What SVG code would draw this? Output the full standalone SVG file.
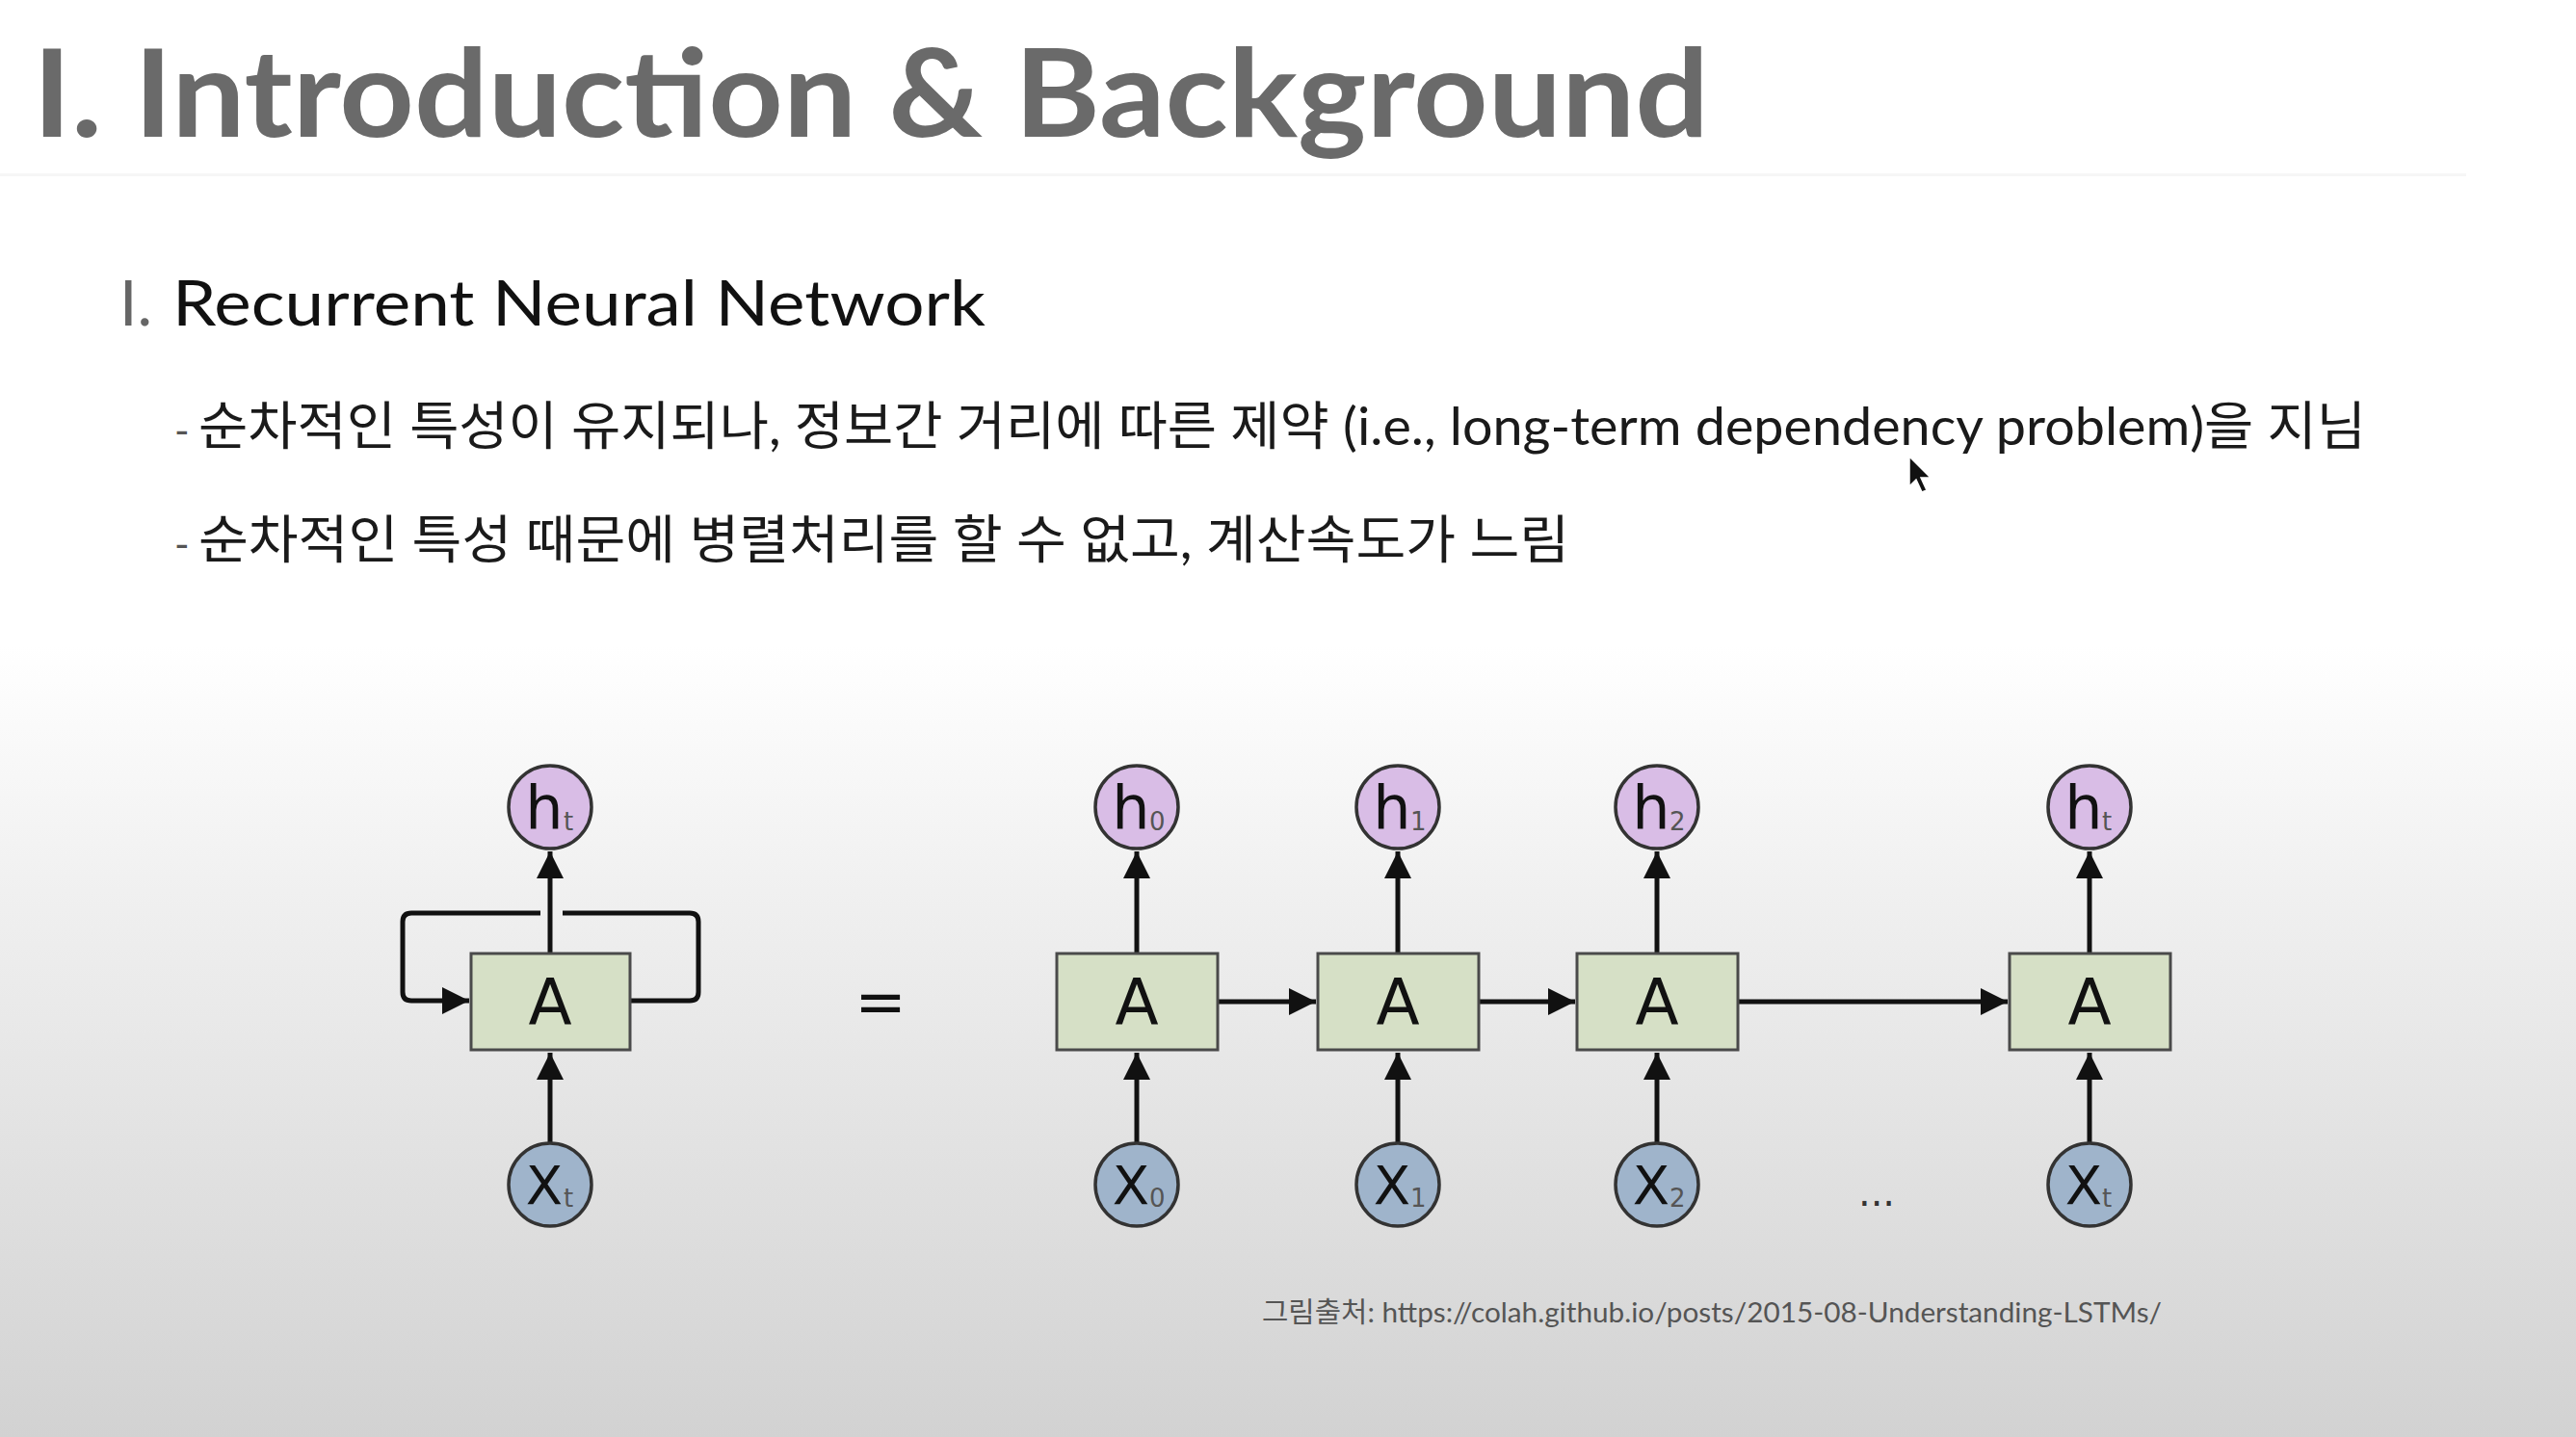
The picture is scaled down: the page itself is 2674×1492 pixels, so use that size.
<svg xmlns="http://www.w3.org/2000/svg" width="2674" height="1492" viewBox="0 0 2674 1492">
<defs>
<linearGradient id="bg" x1="0" y1="0" x2="0" y2="1492" gradientUnits="userSpaceOnUse">
<stop offset="0" stop-color="#ffffff"/>
<stop offset="0.45" stop-color="#ffffff"/>
<stop offset="0.62" stop-color="#f0f0f0"/>
<stop offset="1" stop-color="#d2d2d2"/>
</linearGradient>
<marker id="ah" viewBox="0 0 10 10" refX="10" refY="5" markerWidth="28" markerHeight="28" markerUnits="userSpaceOnUse" orient="auto">
<path d="M0,0 L10,5 L0,10 Z" fill="#111"/>
</marker>
<style>
.title{font-family:Lato,"Open Sans",sans-serif;font-weight:700;fill:#6a6a6a;}
.sub{font-family:Lato,"Open Sans",sans-serif;fill:#111;}
.kr{font-family:Lato,"Noto Sans CJK KR",sans-serif;fill:#1a1a1a;}
.box{fill:#d6e0c6;stroke:#4a4a4a;stroke-width:3;}
.hc{fill:#d9bde6;stroke:#333;stroke-width:3.5;}
.xc{fill:#9fb4cb;stroke:#333;stroke-width:3.5;}
.lbl{font-family:"DejaVu Sans",sans-serif;fill:#111;text-anchor:middle;}
.subs{font-family:"DejaVu Sans",sans-serif;fill:#555;font-size:26px;}
.con{fill:none;stroke:#111;stroke-width:5;}
.arr{fill:none;stroke:#111;stroke-width:5;marker-end:url(#ah);}
</style>
</defs>
<rect x="0" y="0" width="2674" height="1492" fill="url(#bg)"/>
<rect x="0" y="180" width="2560" height="3" fill="#f6f6f6"/>

<text class="title" x="34" y="142" font-size="126" textLength="1740" lengthAdjust="spacingAndGlyphs">I. Introduction &amp; Background</text>

<text class="sub" x="124" y="338" font-size="66" style="fill:#666">I.</text>
<text class="sub" x="179" y="338" font-size="66" textLength="844" lengthAdjust="spacingAndGlyphs">Recurrent Neural Network</text>

<text class="kr" x="181" y="462" font-size="42" style="fill:#555">-</text>
<text class="kr" x="206" y="462" font-size="54" textLength="2250" lengthAdjust="spacingAndGlyphs">순차적인 특성이 유지되나, 정보간 거리에 따른 제약 (i.e., long-term dependency problem)을 지님</text>
<text class="kr" x="181" y="580" font-size="42" style="fill:#555">-</text>
<text class="kr" x="206" y="580" font-size="54" textLength="1423" lengthAdjust="spacingAndGlyphs">순차적인 특성 때문에 병렬처리를 할 수 없고, 계산속도가 느림</text>

<path d="M1982,474 L1982,505 L1989,498 L1995,511 L2000,509 L1994,496 L2004,496 Z" fill="#111" stroke="#fff" stroke-width="1.5"/>

<g id="connectors">
<path class="con" d="M655,1039 H716 Q725,1039 725,1030 V957 Q725,948 716,948 H584"/>
<path class="arr" d="M561,948 H427 Q418,948 418,957 V1030 Q418,1039 427,1039 H487"/>
<line class="arr" x1="571" y1="991" x2="571" y2="884"/>
<line class="arr" x1="571" y1="1187" x2="571" y2="1093"/>
<line class="arr" x1="1180" y1="991" x2="1180" y2="884"/>
<line class="arr" x1="1180" y1="1187" x2="1180" y2="1093"/>
<line class="arr" x1="1451" y1="991" x2="1451" y2="884"/>
<line class="arr" x1="1451" y1="1187" x2="1451" y2="1093"/>
<line class="arr" x1="1720" y1="991" x2="1720" y2="884"/>
<line class="arr" x1="1720" y1="1187" x2="1720" y2="1093"/>
<line class="arr" x1="2169" y1="991" x2="2169" y2="884"/>
<line class="arr" x1="2169" y1="1187" x2="2169" y2="1093"/>
<line class="arr" x1="1265" y1="1040" x2="1366" y2="1040"/>
<line class="arr" x1="1535" y1="1040" x2="1635" y2="1040"/>
<line class="arr" x1="1805" y1="1040" x2="2084" y2="1040"/>
</g>

<g id="rnn-loop-h"><circle class="hc" cx="571" cy="838" r="43"/><text class="lbl" x="565" y="860" font-size="62">h</text><text class="subs" x="585" y="862">t</text></g>
<g id="rnn-loop-a"><rect class="box" x="489" y="990" width="165" height="100"/><text class="lbl" x="571" y="1063" font-size="66">A</text></g>
<g id="rnn-loop-x"><circle class="xc" cx="571" cy="1230" r="43"/><text class="lbl" x="565" y="1250" font-size="56">X</text><text class="subs" x="585" y="1253">t</text></g>

<text id="equals" class="lbl" x="914" y="1062" font-size="64">=</text>

<g id="h0"><circle class="hc" cx="1180" cy="838" r="43"/><text class="lbl" x="1174" y="860" font-size="62">h</text><text class="subs" x="1193" y="862">0</text></g>
<g id="a0"><rect class="box" x="1097" y="990" width="167" height="100"/><text class="lbl" x="1180" y="1063" font-size="66">A</text></g>
<g id="x0"><circle class="xc" cx="1180" cy="1230" r="43"/><text class="lbl" x="1174" y="1250" font-size="56">X</text><text class="subs" x="1193" y="1253">0</text></g>

<g id="h1"><circle class="hc" cx="1451" cy="838" r="43"/><text class="lbl" x="1445" y="860" font-size="62">h</text><text class="subs" x="1464" y="862">1</text></g>
<g id="a1"><rect class="box" x="1368" y="990" width="167" height="100"/><text class="lbl" x="1451" y="1063" font-size="66">A</text></g>
<g id="x1"><circle class="xc" cx="1451" cy="1230" r="43"/><text class="lbl" x="1445" y="1250" font-size="56">X</text><text class="subs" x="1464" y="1253">1</text></g>

<g id="h2"><circle class="hc" cx="1720" cy="838" r="43"/><text class="lbl" x="1714" y="860" font-size="62">h</text><text class="subs" x="1733" y="862">2</text></g>
<g id="a2"><rect class="box" x="1637" y="990" width="167" height="100"/><text class="lbl" x="1720" y="1063" font-size="66">A</text></g>
<g id="x2"><circle class="xc" cx="1720" cy="1230" r="43"/><text class="lbl" x="1714" y="1250" font-size="56">X</text><text class="subs" x="1733" y="1253">2</text></g>

<text id="dots" class="lbl" x="1948" y="1252" font-size="40" style="fill:#333">...</text>

<g id="ht"><circle class="hc" cx="2169" cy="838" r="43"/><text class="lbl" x="2163" y="860" font-size="62">h</text><text class="subs" x="2182" y="862">t</text></g>
<g id="at"><rect class="box" x="2086" y="990" width="167" height="100"/><text class="lbl" x="2169" y="1063" font-size="66">A</text></g>
<g id="xt"><circle class="xc" cx="2169" cy="1230" r="43"/><text class="lbl" x="2163" y="1250" font-size="56">X</text><text class="subs" x="2182" y="1253">t</text></g>

<text class="kr" x="1310" y="1373" font-size="29" textLength="934" lengthAdjust="spacingAndGlyphs" style="fill:#555">그림출처: https://colah.github.io/posts/2015-08-Understanding-LSTMs/</text>
</svg>
